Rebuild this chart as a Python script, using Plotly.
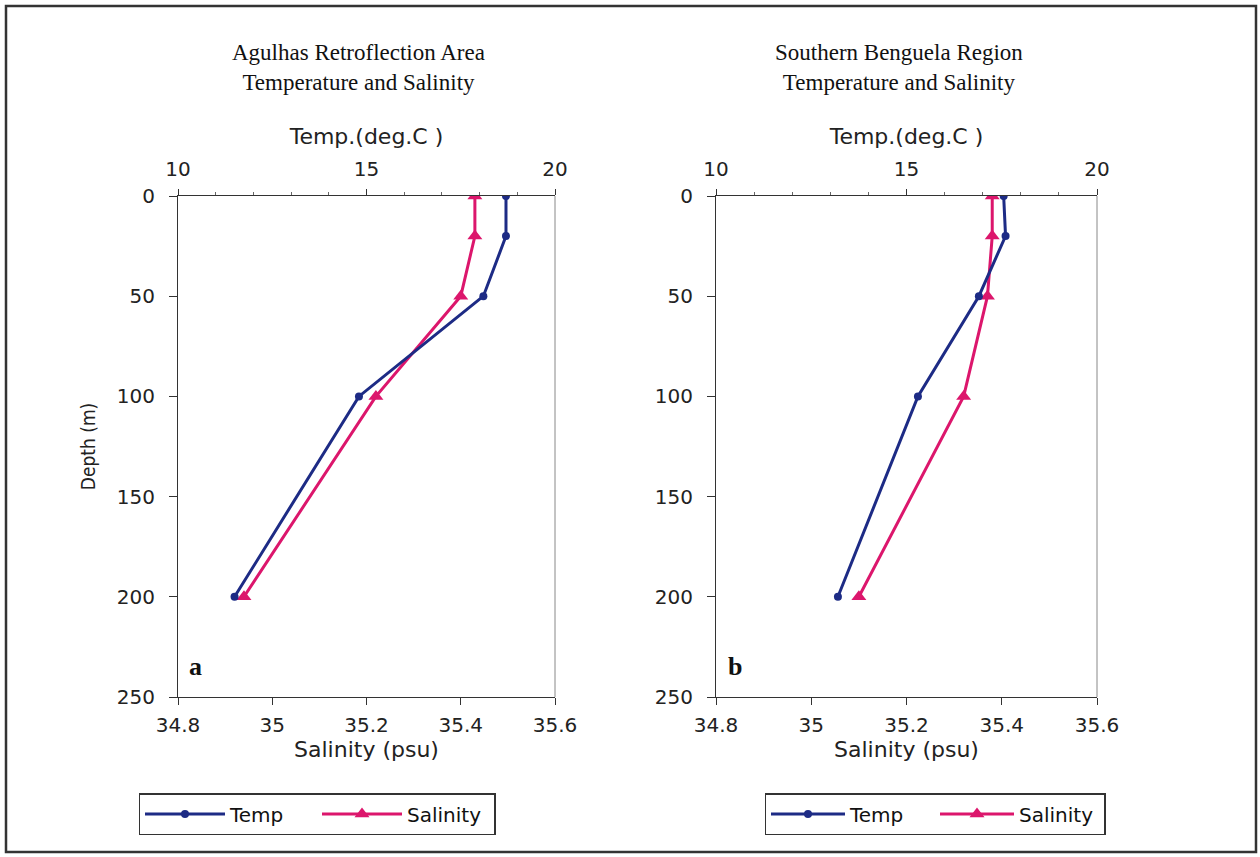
import plotly.graph_objects as go

depth = [0, 20, 50, 100, 200]

# Panel a: Agulhas Retroflection Area
temp_a = [18.7, 18.7, 18.1, 14.8, 11.5]
sal_a = [35.43, 35.43, 35.40, 35.22, 34.94]

# Panel b: Southern Benguela Region
temp_b = [17.55, 17.6, 16.9, 15.3, 13.2]
sal_b = [35.38, 35.38, 35.37, 35.32, 35.10]

titles = ["Agulhas Retroflection Area<br>Temperature and Salinity",
          "Southern Benguela Region<br>Temperature and Salinity"]
panel_labels = ["a", "b"]

TEMP_C = "#1d2b85"
SAL_C = "#dc166c"
W, H = 1260, 857

fig = go.Figure()

def add_pair(temp, sal, xt, xs, ya, leg):
    fig.add_trace(go.Scatter(x=temp, y=depth, xaxis=xt, yaxis=ya, name="Temp",
                             mode="lines+markers", line=dict(color=TEMP_C, width=3),
                             marker=dict(symbol="circle", size=8, color=TEMP_C),
                             legend=leg))
    fig.add_trace(go.Scatter(x=sal, y=depth, xaxis=xs, yaxis=ya, name="Salinity",
                             mode="lines+markers", line=dict(color=SAL_C, width=3),
                             marker=dict(symbol="triangle-up", size=13, color=SAL_C),
                             legend=leg))

add_pair(temp_a, sal_a, "x2", "x", "y", "legend")
add_pair(temp_b, sal_b, "x4", "x3", "y2", "legend2")

tickfont = dict(family="DejaVu Sans", size=20, color="#222")
titlefont = dict(family="DejaVu Sans", size=22, color="#222")
axcol = "#333"

def px_x(p):
    return p / W

def px_y(p):
    return 1 - p / H

dom_y = [px_y(697), px_y(196)]
dom_a = [px_x(178), px_x(555)]
dom_b = [px_x(716), px_x(1097)]

def sal_axis(domain, anchor):
    return dict(domain=domain, anchor=anchor, range=[34.8, 35.6], dtick=0.2,
                showgrid=False, zeroline=False, showline=True, automargin=False,
                linecolor=axcol, linewidth=1.2, ticks="outside",
                ticklen=7, tickcolor=axcol, tickfont=tickfont, ticklabelstandoff=3,
                title=dict(text="Salinity (psu)", font=titlefont, standoff=2))

def temp_axis(overlay, anchor):
    return dict(overlaying=overlay, anchor=anchor, side="top", range=[10, 20],
                dtick=5, showgrid=False, zeroline=False, showline=True, automargin=False,
                linecolor=axcol, linewidth=1.2, ticks="outside", ticklen=6,
                tickcolor=axcol, tickfont=tickfont, ticklabelstandoff=5,
                minor=dict(dtick=1, ticks="outside", ticklen=3, tickcolor="#666"),
                title=dict(text="Temp.(deg.C )", font=titlefont, standoff=6))

def depth_axis(domain, anchor, title):
    return dict(domain=domain, anchor=anchor, range=[250, 0], dtick=50,
                showgrid=False, zeroline=False, showline=True, automargin=False,
                linecolor=axcol, linewidth=1.2, ticks="outside", ticklen=8,
                tickcolor=axcol, tickfont=tickfont, ticklabelstandoff=10,
                title=dict(text=title, font=dict(family="Liberation Sans Narrow, DejaVu Sans Condensed", size=19, color="#222"), standoff=16))

legfont = dict(family="DejaVu Sans", size=20, color="#111")

fig.update_layout(
    width=W, height=H,
    margin=dict(l=0, r=0, t=0, b=0, autoexpand=False),
    paper_bgcolor="white", plot_bgcolor="white",
    xaxis=sal_axis(dom_a, "y"),
    xaxis2=temp_axis("x", "y"),
    xaxis3=sal_axis(dom_b, "y2"),
    xaxis4=temp_axis("x3", "y2"),
    yaxis=depth_axis(dom_y, "x", "Depth (m)"),
    yaxis2=depth_axis(dom_y, "x3", ""),
    legend=dict(orientation="h", x=px_x(317), y=px_y(814), xanchor="center",
                yanchor="middle", bordercolor="#333", borderwidth=1.5,
                bgcolor="white", font=legfont, itemwidth=80, entrywidth=82,
                tracegroupgap=0),
    legend2=dict(orientation="h", x=px_x(935), y=px_y(814), xanchor="center",
                 yanchor="middle", bordercolor="#333", borderwidth=1.5,
                 bgcolor="white", font=legfont, itemwidth=74, entrywidth=80,
                 tracegroupgap=0),
    showlegend=True,
)

# Right border lines of plot areas (lighter)
for dom in (dom_a, dom_b):
    fig.add_shape(type="line", xref="paper", yref="paper", x0=dom[1], x1=dom[1],
                  y0=dom_y[0], y1=dom_y[1], line=dict(color="#888", width=1))

# Outer frame
fig.add_shape(type="rect", xref="paper", yref="paper",
              x0=px_x(6), x1=px_x(1256), y0=px_y(852), y1=px_y(6),
              line=dict(color="#333", width=2.5))

# Titles
for cx, t in zip([358, 899], titles):
    fig.add_annotation(x=px_x(cx), y=px_y(67), xref="paper", yref="paper",
                       text=t, showarrow=False, align="center",
                       xanchor="center", yanchor="middle",
                       font=dict(family="Liberation Serif", size=23, color="#111"))

# Panel letters
for xa, ya, lab in zip(["x", "x3"], ["y", "y2"], panel_labels):
    fig.add_annotation(x=34.82, y=243, xref=xa, yref=ya,
                       text="<b>%s</b>" % lab, showarrow=False, xanchor="left",
                       yanchor="bottom",
                       font=dict(family="Liberation Serif", size=26, color="#111"))

fig.write_html("out.html")
